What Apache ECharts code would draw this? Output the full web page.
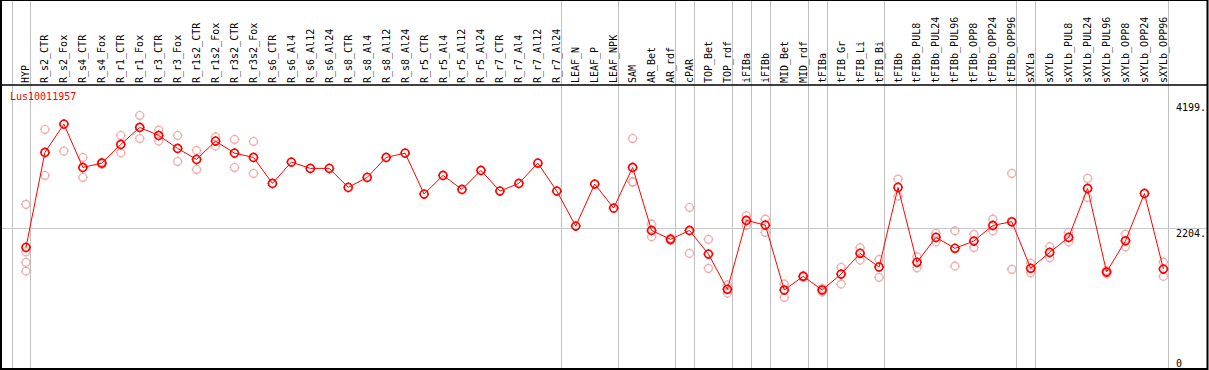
<!DOCTYPE html>
<html>
<head>
<meta charset="utf-8">
<script src="https://cdn.jsdelivr.net/npm/echarts@6/dist/echarts.min.js"></script>
<style>
html,body{margin:0;padding:0;background:#fff;}
#c{width:1209px;height:370px;}
</style>
</head>
<body>
<div id="c"></div>
<script>
const categories = ["HYP","R_s2_CTR","R_s2_Fox","R_s4_CTR","R_s4_Fox","R_r1_CTR","R_r1_Fox","R_r3_CTR","R_r3_Fox","R_r1s2_CTR","R_r1s2_Fox","R_r3s2_CTR","R_r3s2_Fox","R_s6_CTR","R_s6_Al4","R_s6_Al12","R_s6_Al24","R_s8_CTR","R_s8_Al4","R_s8_Al12","R_s8_Al24","R_r5_CTR","R_r5_Al4","R_r5_Al12","R_r5_Al24","R_r7_CTR","R_r7_Al4","R_r7_Al12","R_r7_Al24","LEAF_N","LEAF_P","LEAF_NPK","SAM","AR_Bet","AR_rdf","cPAR","TOP_Bet","TOP_rdf","iFIBa","iFIBb","MID_Bet","MID_rdf","tFIBa","tFIB_Gr","tFIB_Li","tFIB_Bi","tFIBb","tFIBb_PUL8","tFIBb_PUL24","tFIBb_PUL96","tFIBb_OPP8","tFIBb_OPP24","tFIBb_OPP96","sXYLa","sXYLb","sXYLb_PUL8","sXYLb_PUL24","sXYLb_PUL96","sXYLb_OPP8","sXYLb_OPP24","sXYLb_OPP96"];

const meanValues = [1904,3403,3850,3166,3234,3529,3797,3671,3466,3293,3582,3392,3324,2914,3250,3151,3151,2851,3009,3324,3392,2746,3040,2819,3119,2793,2914,3234,2793,2240,2903,2524,3166,2172,2031,2172,1799,1242,2330,2256,1231,1447,1231,1483,1810,1594,2851,1668,2062,1889,2004,2251,2309,1573,1825,2062,2835,1515,2009,2756,1562];

const rep1 = [2583,3766,4276,3324,3250,3671,3987,3755,3671,3435,3650,3608,3577,null,null,null,null,null,null,null,null,null,null,null,null,null,null,null,null,null,null,null,3624,2272,2050,2535,2031,1310,2403,2351,1325,1460,1257,1589,1898,1715,2982,1756,2125,2166,2109,2351,3072,1652,1914,2141,2993,1540,2114,null,1672];
const rep2 = [1835,3040,3424,3009,3218,3397,3624,3582,3261,3135,3503,3166,3072,null,null,null,null,null,null,null,null,null,null,null,null,null,null,null,null,null,null,null,2940,2072,2012,1810,1573,1183,2251,2141,1115,1434,1200,1325,1704,1431,2714,1583,1993,1609,1904,2166,1557,1504,1741,1993,2693,1490,1914,null,1447];
const rep3 = {"HYP":1668,"SAM":2934};
const rep4 = {"HYP":1530};

const yTicks = {min:0, max:4199, interval:2204};
const groupEnds = [-1,0,28,31,34,35,37,38,39,41,42,45,52,53,60];
const geneName = "Lus10011957";

const MONO = "DejaVu Sans Mono";
const NUBS = "path://M5,0V1.6M5,8.4V10M0,5H1.6M8.4,5H10";

const repData = [];
categories.forEach((c,i)=>{
  [rep1[i], rep2[i], rep3[c], rep4[c]].forEach(v=>{ if(v!=null) repData.push([i,v]); });
});

const chart = echarts.init(document.getElementById('c'), null, {renderer:'svg'});
chart.setOption({
  animation:false,
  backgroundColor:'#fff',
  title:{text:geneName,left:10,top:91,padding:0,textStyle:{color:'#ff0000',fontSize:10,fontWeight:'normal',fontFamily:MONO}},
  grid:{left:16.5,right:33.5,top:102,bottom:2,containLabel:false},
  xAxis:{type:'category',data:categories,position:'top',offset:17,boundaryGap:true,
    axisLine:{show:false},axisTick:{show:false},splitLine:{show:false},
    axisLabel:{interval:0,rotate:90,margin:2,color:'#000',fontSize:10,fontFamily:MONO,padding:[6,0,0,0]}},
  yAxis:[
    {type:'value',position:'right',min:yTicks.min,max:yTicks.max,interval:yTicks.interval,
     axisLine:{show:false},axisTick:{show:false},splitLine:{show:false},
     axisLabel:{margin:3,color:'#000',fontSize:10,fontFamily:MONO,verticalAlign:'top',
       formatter:v=>v===0?'':(v+'.')}},
    {type:'value',position:'right',min:yTicks.min,max:yTicks.max,interval:yTicks.interval,
     axisLine:{show:false},axisTick:{show:false},splitLine:{show:false},
     axisLabel:{margin:3,color:'#000',fontSize:10,fontFamily:MONO,verticalAlign:'bottom',
       formatter:v=>v===0?'0':''}}
  ],
  series:[
    {type:'scatter',data:repData,symbol:'circle',symbolSize:8,silent:true,z:3,
     itemStyle:{color:'rgba(0,0,0,0)',borderColor:'#f0a0a0',borderWidth:1.3}},
    {type:'scatter',data:repData,symbol:NUBS,symbolSize:10,silent:true,z:3,
     itemStyle:{color:'rgba(0,0,0,0)',borderColor:'#f0a0a0',borderWidth:1.2}},
    {type:'line',data:meanValues,symbol:'circle',symbolSize:8,showAllSymbol:true,silent:true,z:4,
     lineStyle:{color:'#ff0000',width:1},
     itemStyle:{color:'rgba(0,0,0,0)',borderColor:'#ff0000',borderWidth:1.6}},
    {type:'scatter',data:meanValues.map((v,i)=>[i,v]),symbol:NUBS,symbolSize:10,silent:true,z:4,
     itemStyle:{color:'rgba(0,0,0,0)',borderColor:'#ff0000',borderWidth:1.4}}
  ]
});

const x0 = chart.convertToPixel({xAxisIndex:0},0);
const band = chart.convertToPixel({xAxisIndex:0},1) - x0;
const yG = chart.convertToPixel({yAxisIndex:0},2204);
const g = [];
groupEnds.forEach(i=>{
  const x = Math.round(x0 + band*i + band*0.237) + 0.5;
  g.push({type:'line',z:0,shape:{x1:x,y1:0,x2:x,y2:370},style:{stroke:'#c0c0c0',lineWidth:1}});
});
g.push({type:'line',z:0,shape:{x1:1,y1:Math.round(yG)+0.5,x2:1208,y2:Math.round(yG)+0.5},style:{stroke:'#c8c8c8',lineWidth:1}});
g.push({type:'line',z:10,shape:{x1:1,y1:85,x2:1208,y2:85},style:{stroke:'#000',lineWidth:1.5}});
g.push({type:'rect',z:10,shape:{x:1,y:0,width:1206.5,height:369},style:{fill:'none',stroke:'#000',lineWidth:2}});
chart.setOption({graphic:g});
</script>
</body>
</html>
